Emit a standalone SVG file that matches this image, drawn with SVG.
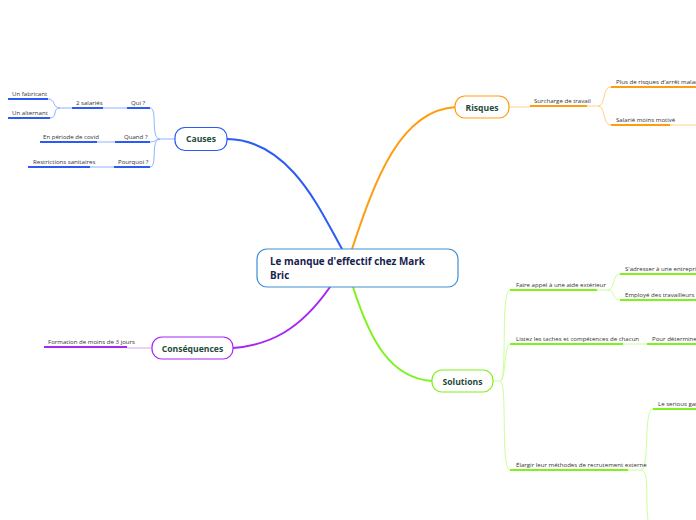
<svg xmlns="http://www.w3.org/2000/svg" width="696" height="520" viewBox="0 0 696 520">
<style>
.bg{fill:#ffffff}
.t{font-family:"Open Sans","Noto Sans",sans-serif;font-size:6.1px;fill:#333333}
.nt{font-family:"Open Sans","Noto Sans",sans-serif;font-size:8.6px;font-weight:bold;fill:#1f4a3c;text-anchor:middle}
.ct{font-family:"Open Sans","Noto Sans",sans-serif;font-size:9.9px;font-weight:bold;fill:#16224c}
.node{fill:#ffffff;stroke-width:1.2}
.main{fill:none;stroke-width:2;stroke-linecap:round}
.thin{fill:none;stroke-width:1}
.ul{fill:none;stroke-width:2}
.blue{stroke:#2a5cf5}.bluel{stroke:#8fb0ff}
.or{stroke:#ff9d10}.orl{stroke:#ffd28a}
.pu{stroke:#a626f5}.pul{stroke:#d9a0ff}
.gr{stroke:#7ef21a}.grl{stroke:#c9ff9a}
</style>
<rect class="bg" x="0" y="0" width="696" height="520"/>
<g id="connectors">
  <path class="main blue" d="M227,139 C290,140 320,210 342,249"/>
  <path class="main or" d="M352,249 C375,180 400,110 456,107"/>
  <path class="main pu" d="M330,287 C300,330 270,345 233,348"/>
  <path class="main gr" d="M353,287 C370,340 390,378 432,381"/>
  <path class="thin bluel" d="M175,139 H160 C150,139 158,108 150,108"/>
  <path class="thin bluel" d="M160,139 C155,139 156,142 150,142"/>
  <path class="thin bluel" d="M160,139 C150,139 158,167 150,167"/>
  <path class="thin bluel" d="M127,108 H103 M72,108 H60 C52,108 56,99 48,99 M60,108 C52,108 58,118 50,118"/>
  <path class="thin bluel" d="M115,142 H97 M114,167 H90"/>
  <path class="thin orl" d="M509,107 H530 M587,106 H598 C606,106 602,87 611,87 M598,106 C606,106 602,125 611,125 M670,125 H696"/>
  <path class="thin pul" d="M152,348 H127"/>
  <path class="thin grl" d="M493,381 H500 C508,381 500,290 510,290 M500,381 C506,381 504,344 510,344 M500,381 C508,381 500,470 510,470"/>
  <path class="thin grl" d="M597,290 H608 C615,290 612,274 620,274 M608,290 C615,290 612,300 620,300"/>
  <path class="thin grl" d="M623,344 H647"/>
  <path class="thin grl" d="M628,470 H641 C650,470 643,409 653,409 M641,470 C650,470 645,500 648,520"/>
</g>
<g id="underlines">
  <path class="ul blue" d="M127,108 H150 M72,108 H103 M8,99 H48 M8,118 H50 M115,142 H150 M40,142 H97 M114,167 H150 M28,167 H90"/>
  <path class="ul or" d="M530,106 H587 M611,87 H696 M611,125 H670"/>
  <path class="ul pu" d="M44,347 H127"/>
  <path class="ul gr" d="M510,290 H597 M620,274 H696 M620,300 H696 M510,344 H623 M647,344 H696 M510,470 H628 M653,409 H696"/>
</g>
<g id="center">
  <rect class="node" x="257" y="249" width="201" height="38" rx="10" stroke="#3f8fd4"/>
  <text class="ct" x="270" y="265">Le manque d'effectif chez Mark</text>
  <text class="ct" x="270" y="279">Bric</text>
</g>
<g id="causes">
  <rect class="node" x="175" y="127.5" width="52" height="23" rx="10" stroke="#2a5cf5"/>
  <text class="nt" x="201" y="142">Causes</text>
</g>
<g id="qui"><text class="t" x="131" y="105">Qui ?</text></g>
<g id="salaries"><text class="t" x="76" y="105">2 salariés</text></g>
<g id="fabricant"><text class="t" x="12" y="96">Un fabricant</text></g>
<g id="alternant"><text class="t" x="12" y="115">Un alternant</text></g>
<g id="quand"><text class="t" x="124" y="139">Quand ?</text></g>
<g id="covid"><text class="t" x="43" y="139">En période de covid</text></g>
<g id="pourquoi"><text class="t" x="118" y="164">Pourquoi ?</text></g>
<g id="restrictions"><text class="t" x="33" y="164">Restrictions sanitaires</text></g>
<g id="risques">
  <rect class="node" x="455" y="96" width="54" height="22" rx="10" stroke="#ff9d10"/>
  <text class="nt" x="482" y="110.5">Risques</text>
</g>
<g id="surcharge"><text class="t" x="534" y="103">Surcharge de travail</text></g>
<g id="arret"><text class="t" x="616" y="84">Plus de risques d'arrêt maladie</text></g>
<g id="motive"><text class="t" x="616" y="122">Salarié moins motivé</text></g>
<g id="consequences">
  <rect class="node" x="152" y="337" width="81" height="22" rx="10" stroke="#a626f5"/>
  <text class="nt" x="192.5" y="351.5">Conséquences</text>
</g>
<g id="formation"><text class="t" x="48" y="344">Formation de moins de 3 jours</text></g>
<g id="solutions">
  <rect class="node" x="432" y="370" width="61" height="22" rx="10" stroke="#7ef21a"/>
  <text class="nt" x="462.5" y="384.5">Solutions</text>
</g>
<g id="aide"><text class="t" x="516" y="287">Faire appel à une aide extérieur</text></g>
<g id="entreprise"><text class="t" x="625" y="271">S'adresser à une entreprise</text></g>
<g id="travailleurs"><text class="t" x="625" y="297">Employé des travailleurs temporaires</text></g>
<g id="listez"><text class="t" x="516" y="341">Listez les taches et compétences de chacun</text></g>
<g id="determiner"><text class="t" x="652" y="341">Pour déterminer</text></g>
<g id="elargir"><text class="t" x="516" y="467">Élargir leur méthodes de recrutement externe</text></g>
<g id="serious"><text class="t" x="658" y="406">Le serious game</text></g>
</svg>
